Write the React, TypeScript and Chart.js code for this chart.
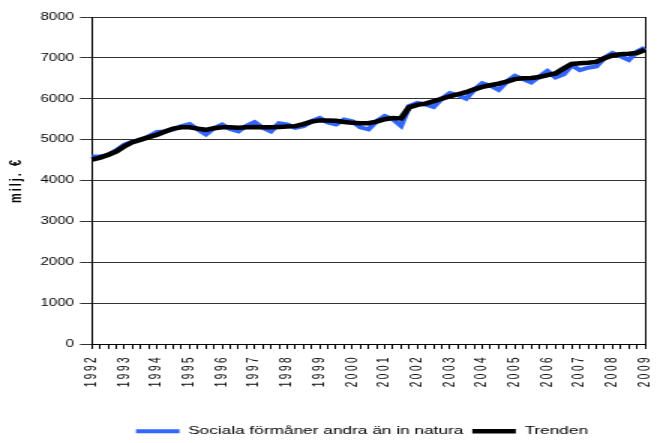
import React, { useEffect, useRef } from 'react';
import { Chart, registerables } from 'chart.js';

Chart.register(...registerables);

// Tick labels (one per year, first quarter)
const years = [1992, 1993, 1994, 1995, 1996, 1997, 1998, 1999, 2000, 2001, 2002, 2003, 2004, 2005, 2006, 2007, 2008, 2009];

// Quarterly categories 1992Q1 .. 2009Q1
const categories = years.flatMap((y) => ['Q1', 'Q2', 'Q3', 'Q4'].map((q) => `${y} ${q}`)).slice(0, 69);

// Sociala förmåner andra än in natura (milj. €)
const socialaValues = [
  4590, 4590, 4620, 4740,
  4880, 4950, 4990, 5080,
  5190, 5200, 5250, 5330,
  5380, 5250, 5130, 5280,
  5370, 5260, 5200, 5340,
  5430, 5290, 5200, 5400,
  5370, 5290, 5330, 5450,
  5530, 5420, 5370, 5490,
  5450, 5300, 5250, 5450,
  5580, 5500, 5340, 5820,
  5900, 5860, 5800, 6000,
  6140, 6090, 6000, 6220,
  6380, 6320, 6220, 6420,
  6560, 6480, 6400, 6540,
  6680, 6520, 6600, 6820,
  6700, 6760, 6790, 7000,
  7120, 7040, 6950, 7150,
  7250,
];

// Trenden (milj. €)
const trendValues = [
  4510, 4560, 4630, 4710,
  4840, 4940, 5000, 5060,
  5120, 5200, 5270, 5300,
  5300, 5270, 5240, 5280,
  5300, 5300, 5290, 5300,
  5310, 5300, 5300, 5310,
  5320, 5330, 5380, 5440,
  5470, 5470, 5460, 5430,
  5410, 5400, 5400, 5440,
  5500, 5530, 5520, 5790,
  5850, 5880, 5940, 6000,
  6060, 6110, 6160, 6230,
  6290, 6330, 6370, 6420,
  6480, 6500, 6510, 6530,
  6580, 6620, 6740, 6850,
  6870, 6880, 6900, 6990,
  7060, 7090, 7100, 7120,
  7200,
];

const seriesNames = ['Sociala förmåner andra än in natura', 'Trenden'];
const yAxisTitle = 'milj. €';

const W = 672;
const H = 443;
const STRETCH = 1.5;
const IW = W / STRETCH;

const FONT = "'Liberation Sans', Arial, sans-serif";

const withSpacing = (chart: any, fn: () => void, spacing: string) => {
  const ctx = chart.ctx as any;
  const prev = ctx.letterSpacing;
  ctx.letterSpacing = spacing;
  fn();
  ctx.letterSpacing = prev === undefined ? '0px' : prev;
};

const tweaks = {
  id: 'tweaks',
  afterLayout(chart: any) {
    const l = chart.legend;
    if (l) {
      const dx = 20;
      const dy = 4;
      l.left += dx;
      l.right += dx;
      l.top += dy;
      l.bottom += dy;
    }
    const xs = chart.scales.x;
    if (xs && !xs.__patched) {
      const orig = xs.drawLabels.bind(xs);
      xs.drawLabels = (area: any) => withSpacing(chart, () => orig(area), '2.5px');
      xs.__patched = true;
    }
    const ys = chart.scales.y;
    if (ys && !ys.__patched) {
      const origT = ys.drawTitle.bind(ys);
      ys.drawTitle = () => withSpacing(chart, () => origT(), '2px');
      ys.__patched = true;
    }
  },
};

export default function App() {
  const ref = useRef<HTMLCanvasElement>(null);

  useEffect(() => {
    document.body.style.margin = '0';
    const canvas = ref.current;
    if (!canvas) return;
    const chart = new Chart(canvas, {
      type: 'line',
      data: {
        labels: categories,
        datasets: [
          {
            label: seriesNames[0],
            data: socialaValues,
            borderColor: '#3366FF',
            backgroundColor: '#3366FF',
            borderWidth: 4,
            pointRadius: 0,
            tension: 0,
            order: 1,
          },
          {
            label: seriesNames[1],
            data: trendValues,
            borderColor: '#000000',
            backgroundColor: '#000000',
            borderWidth: 4.5,
            pointRadius: 0,
            tension: 0,
            order: 0,
          },
        ],
      },
      options: {
        animation: false,
        responsive: false,
        devicePixelRatio: 1,
        layout: { padding: { left: 0, right: 5.3, top: 17, bottom: 0 } },
        plugins: {
          legend: {
            position: 'bottom',
            labels: {
              usePointStyle: true,
              pointStyle: 'line',
              pointStyleWidth: 29,
              padding: 6,
              color: '#000',
              font: { family: FONT, size: 11.5 },
              sort: (a: any, b: any) => a.datasetIndex - b.datasetIndex,
            },
          },
          tooltip: { enabled: false },
        },
        scales: {
          x: {
            type: 'category',
            offset: false,
            grid: { drawOnChartArea: false, drawTicks: true, tickLength: 5, color: '#000' },
            border: { color: '#000', width: 1 },
            ticks: {
              autoSkip: false,
              maxRotation: 90,
              minRotation: 90,
              padding: 6,
              color: '#000',
              font: { family: FONT, size: 10 },
              callback: (_v: any, i: number) => (i % 4 === 0 ? String(years[i / 4]) : ''),
            },
            afterFit: (s: any) => {
              s.height = 71.5;
            },
          },
          y: {
            min: 0,
            max: 8000,
            ticks: {
              stepSize: 1000,
              padding: 4,
              color: '#000',
              font: { family: FONT, size: 10 },
              callback: (v: any) => String(v),
            },
            grid: { color: '#333', tickLength: 8 },
            border: { color: '#000', width: 1 },
            title: {
              display: true,
              text: yAxisTitle,
              color: '#000',
              font: { family: FONT, size: 11, weight: 'bold' },
              padding: { top: 4.7, bottom: 0 },
            },
            afterFit: (s: any) => {
              s.width = 61.3;
            },
          },
          y2: {
            position: 'right',
            min: 0,
            max: 8000,
            ticks: { display: false },
            grid: { display: false, drawTicks: false },
            border: { display: true, color: '#000', width: 1 },
            afterFit: (s: any) => {
              s.width = 0;
            },
          },
        },
      },
      plugins: [tweaks],
    } as any);
    return () => chart.destroy();
  }, []);

  return (
    <div style={{ position: 'absolute', left: 0, top: 0, width: W, height: H, overflow: 'hidden', background: '#fff' }}>
      <div style={{ width: IW, height: H, transform: `scaleX(${STRETCH})`, transformOrigin: '0 0' }}>
        <canvas ref={ref} width={IW} height={H} style={{ display: 'block' }} />
      </div>
    </div>
  );
}
